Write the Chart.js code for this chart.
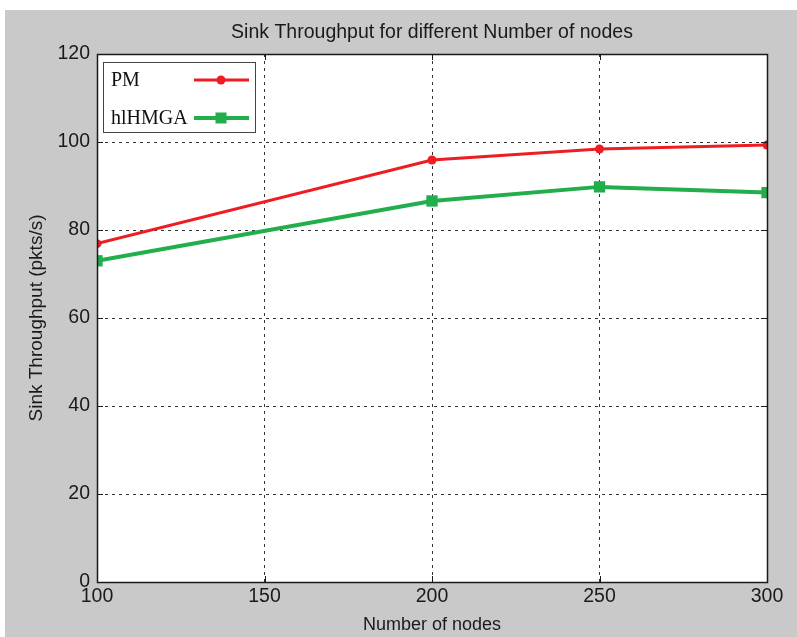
<!DOCTYPE html>
<html>
<head>
<meta charset="utf-8">
<script src="https://cdn.jsdelivr.net/npm/chart.js@4.4.0/dist/chart.umd.min.js"></script>
<style>
  html, body { margin: 0; padding: 0; background: #fff; }
  #wrap { position: absolute; left: 5px; top: 10px; width: 792px; height: 627px; background: #c9c9c9; }
</style>
</head>
<body>
<div id="wrap"><canvas id="myChart" width="792" height="627"></canvas></div>
<script>
// values
var nodes = [100, 200, 250, 300];
var pmValues = [76.9, 95.9, 98.4, 99.3];
var hlhmgaValues = [73.0, 86.6, 89.8, 88.5];
var seriesNames = ['PM', 'hlHMGA'];
var xTicks = [100, 150, 200, 250, 300];
var yTicks = [0, 20, 40, 60, 80, 100, 120];

function pts(xs, ys) {
  var out = [];
  for (var i = 0; i < xs.length; i++) out.push({x: xs[i], y: ys[i]});
  return out;
}

// white plot box, full border and inward ticks like matlab
var frame = {
  id: 'frame',
  beforeDraw: function(chart) {
    var a = chart.chartArea, ctx = chart.ctx;
    ctx.save();
    ctx.fillStyle = '#ffffff';
    ctx.fillRect(a.left, a.top, a.right - a.left, a.bottom - a.top);
    ctx.restore();
  },
  afterDatasetsDraw: function(chart) {
    var a = chart.chartArea, ctx = chart.ctx;
    var xs = chart.scales.x, ys = chart.scales.y;
    ctx.save();
    ctx.strokeStyle = '#1a1a1a';
    ctx.lineWidth = 1;
    ctx.beginPath();
    xTicks.forEach(function(v) {
      var px = Math.round(xs.getPixelForValue(v)) + 0.5;
      ctx.moveTo(px, a.bottom); ctx.lineTo(px, a.bottom - 6);
      ctx.moveTo(px, a.top); ctx.lineTo(px, a.top + 6);
    });
    yTicks.forEach(function(v) {
      var py = Math.round(ys.getPixelForValue(v)) + 0.5;
      ctx.moveTo(a.left, py); ctx.lineTo(a.left + 6, py);
      ctx.moveTo(a.right, py); ctx.lineTo(a.right - 6, py);
    });
    ctx.stroke();
    ctx.lineWidth = 1.5;
    ctx.strokeRect(Math.round(a.left) + 0.5, Math.round(a.top) + 0.5, Math.round(a.right - a.left), Math.round(a.bottom - a.top));
    ctx.restore();
  },
  afterDraw: function(chart) {
    // legend box in the upper left corner
    var ctx = chart.ctx;
    ctx.save();
    ctx.fillStyle = '#ffffff';
    ctx.fillRect(98, 52, 152, 70);
    ctx.strokeStyle = '#444';
    ctx.lineWidth = 1;
    ctx.strokeRect(98.5, 52.5, 152, 70);
    ctx.font = '20px "Liberation Serif", "Times New Roman", serif';
    ctx.textBaseline = 'middle';
    ctx.textAlign = 'left';
    var rows = [70, 108];
    chart.data.datasets.forEach(function(ds, i) {
      var y = rows[i];
      ctx.fillStyle = '#111';
      ctx.fillText(ds.label, 106, y + 1);
      ctx.strokeStyle = ds.borderColor;
      ctx.lineWidth = ds.borderWidth;
      ctx.beginPath();
      ctx.moveTo(189, y); ctx.lineTo(244, y);
      ctx.stroke();
      ctx.fillStyle = ds.borderColor;
      if (ds.pointStyle === 'rect') {
        ctx.fillRect(216 - 5.5, y - 5.5, 11, 11);
      } else {
        ctx.beginPath(); ctx.arc(216, y, 4.5, 0, Math.PI * 2); ctx.fill();
      }
    });
    ctx.restore();
  }
};

var tickFont = {family: '"Liberation Sans", Arial, sans-serif', size: 19.5};

var ctx = document.getElementById('myChart').getContext('2d');
var myChart = new Chart(ctx, {
  type: 'line',
  data: {
    datasets: [{
      label: seriesNames[0],
      data: pts(nodes, pmValues),
      borderColor: '#ee1d23',
      backgroundColor: '#ee1d23',
      borderWidth: 3,
      pointStyle: 'circle',
      pointRadius: 4.5,
      pointBorderWidth: 0,
      tension: 0
    }, {
      label: seriesNames[1],
      data: pts(nodes, hlhmgaValues),
      borderColor: '#22ae4c',
      backgroundColor: '#22ae4c',
      borderWidth: 4,
      pointStyle: 'rect',
      pointRadius: 8,
      pointBorderWidth: 0,
      tension: 0
    }]
  },
  options: {
    responsive: false,
    animation: false,
    layout: {padding: {right: 30}},
    plugins: {
      legend: {display: false},
      tooltip: {enabled: false},
      title: {
        display: true,
        fullSize: false,
        text: 'Sink Throughput for different Number of nodes',
        color: '#1a1a1a',
        font: {family: '"Liberation Sans", Arial, sans-serif', size: 19.5, weight: 'normal'},
        padding: {top: 11, bottom: 9.6}
      }
    },
    scales: {
      x: {
        type: 'linear',
        min: 100, max: 300,
        afterFit: function(s) { s.height = 55; },
        afterBuildTicks: function(s) { s.ticks = xTicks.map(function(v) { return {value: v}; }); },
        ticks: {color: '#1a1a1a', font: tickFont, padding: 3, maxRotation: 0},
        grid: {color: '#333', drawTicks: false, lineWidth: 1},
        border: {display: true, color: '#1a1a1a', dash: [3, 4]},
        title: {
          display: true, text: 'Number of nodes', color: '#1a1a1a',
          font: {family: '"Liberation Sans", Arial, sans-serif', size: 18},
          padding: {top: 0, bottom: 1}
        }
      },
      y: {
        min: 0, max: 120,
        afterFit: function(s) { s.width = 92; },
        afterBuildTicks: function(s) { s.ticks = yTicks.map(function(v) { return {value: v}; }); },
        ticks: {color: '#1a1a1a', font: tickFont, padding: 7},
        grid: {color: '#333', drawTicks: false, lineWidth: 1},
        border: {display: true, color: '#1a1a1a', dash: [3, 4]},
        title: {
          display: true, text: 'Sink Throughput (pkts/s)', color: '#1a1a1a',
          font: {family: '"Liberation Sans", Arial, sans-serif', size: 19},
          padding: {top: 20, bottom: 0}
        }
      }
    }
  },
  plugins: [frame]
});
</script>
</body>
</html>
